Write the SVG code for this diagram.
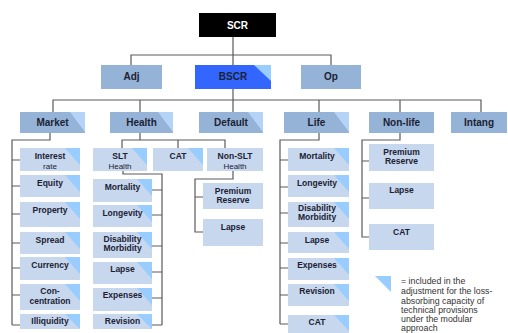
<svg xmlns="http://www.w3.org/2000/svg" width="508" height="333" viewBox="0 0 508 333">
<style>
text{font-family:"Liberation Sans",Arial,sans-serif;font-weight:bold;fill:#1c2233;text-anchor:middle}
.l2{fill:#95b3d7}
.l3{fill:#95b3d7}
.l4{fill:#c6d7ee}
.t3{fill:#b5d3f7}
.t4{fill:#99ccff}
.f10{font-size:10px}
.f8{font-size:8.5px}
.sub{font-weight:normal;font-size:8px}
.conn{fill:none;stroke:#5a5a5a;stroke-width:1.2}
.leg{font-weight:normal;font-size:8.8px;fill:#333;text-anchor:start}
</style>
<rect width="508" height="333" fill="#fff"/>
<g id="connectors" class="conn">
<path d="M233,37V112M131,65V55H331V65M53,112V100H481V112M140,100V112M319,100V112M400,100V112"/>
<path d="M50,133V140H12V325M12,160H20M12,186H20M12,214H20M12,243H20M12,268H20M12,295H20M12,325H20"/>
<path d="M140,133V140M122,148V140H225V148M178,140V148"/>
<path d="M123,171V174H162V325M162,190H152M162,215H152M162,246H152M162,272H152M162,298H152M162,325H152"/>
<path d="M233,171V179H195V232H203M195,197H203"/>
<path d="M319,133V140H280V324M280,160H288M280,187H288M280,213H288M280,243H288M280,268H288M280,295H288M280,324H288"/>
<path d="M400,133V140H362V237H369M362,161H369M362,198H369"/>
</g>
<g id="n-scr"><rect x="199" y="13" width="77" height="24" fill="#000"/><text x="237.5" y="28.5" class="f10" style="fill:#fff">SCR</text></g>
<g id="n-adj"><rect x="101" y="65" width="61" height="24" class="l2"/><text x="131.5" y="80" class="f10">Adj</text></g>
<g id="n-bscr"><rect x="195" y="65" width="76" height="24" fill="#3366ff"/><polygon points="254,65 271,65 271,81" class="t4"/><text x="233" y="80" class="f10">BSCR</text></g>
<g id="n-op"><rect x="301" y="65" width="60" height="24" class="l2"/><text x="331" y="80" class="f10">Op</text></g>

<g id="n-market"><rect x="20" y="112" width="65" height="21" class="l3"/><polygon points="70,112 85,112 85,132" class="t3"/><text x="52.5" y="126" class="f10">Market</text></g>
<g id="n-health"><rect x="110" y="112" width="63" height="21" class="l3"/><polygon points="158,112 173,112 173,132" class="t3"/><text x="141.5" y="126" class="f10">Health</text></g>
<g id="n-default"><rect x="199" y="112" width="64" height="21" class="l3"/><polygon points="248,112 263,112 263,132" class="t3"/><text x="231" y="126" class="f10">Default</text></g>
<g id="n-life"><rect x="284" y="112" width="65" height="21" class="l3"/><polygon points="334,112 349,112 349,132" class="t3"/><text x="316.5" y="126" class="f10">Life</text></g>
<g id="n-nonlife"><rect x="369" y="112" width="65" height="21" class="l3"/><text x="401.5" y="126" class="f10">Non-life</text></g>
<g id="n-intang"><rect x="451" y="112" width="56" height="21" class="l3"/><text x="479" y="126" class="f10">Intang</text></g>

<g id="n-m-interest"><rect x="20" y="148" width="60" height="23" class="l4"/><polygon points="65,148 80,148 80,165" class="t4"/><text x="50" y="159" class="f8">Interest</text><text x="50" y="169" class="sub">rate</text></g>
<g id="n-m-equity"><rect x="20" y="175" width="60" height="22" class="l4"/><polygon points="65,175 80,175 80,192" class="t4"/><text x="50" y="186" class="f8">Equity</text></g>
<g id="n-m-property"><rect x="20" y="202" width="60" height="25" class="l4"/><polygon points="65,202 80,202 80,219" class="t4"/><text x="50" y="213" class="f8">Property</text></g>
<g id="n-m-spread"><rect x="20" y="232" width="60" height="22" class="l4"/><polygon points="65,232 80,232 80,249" class="t4"/><text x="50" y="243" class="f8">Spread</text></g>
<g id="n-m-currency"><rect x="20" y="257" width="60" height="23" class="l4"/><polygon points="65,257 80,257 80,274" class="t4"/><text x="50" y="268" class="f8">Currency</text></g>
<g id="n-m-conc"><rect x="20" y="284" width="60" height="26" class="l4"/><polygon points="65,284 80,284 80,301" class="t4"/><text x="50" y="294" class="f8">Con-</text><text x="50" y="304" class="f8">centration</text></g>
<g id="n-m-illiq"><rect x="20" y="314" width="60" height="15" class="l4"/><polygon points="65,314 80,314 80,329" class="t4"/><text x="50" y="324" class="f8">Illiquidity</text></g>

<g id="n-h-slt"><rect x="93" y="148" width="54" height="23" class="l4"/><polygon points="132,148 147,148 147,165" class="t4"/><text x="120" y="159" class="f8">SLT</text><text x="120" y="169" class="sub">Health</text></g>
<g id="n-h-cat"><rect x="153" y="148" width="50" height="23" class="l4"/><polygon points="188,148 203,148 203,165" class="t4"/><text x="178" y="159" class="f8">CAT</text></g>
<g id="n-h-nonslt"><rect x="207" y="148" width="56" height="23" class="l4"/><text x="235" y="159" class="f8">Non-SLT</text><text x="235" y="169" class="sub">Health</text></g>

<g id="n-s-mort"><rect x="93" y="179" width="59" height="23" class="l4"/><polygon points="137,179 152,179 152,196" class="t4"/><text x="122.5" y="190" class="f8">Mortality</text></g>
<g id="n-s-long"><rect x="93" y="205" width="59" height="22" class="l4"/><polygon points="137,205 152,205 152,222" class="t4"/><text x="122.5" y="216" class="f8">Longevity</text></g>
<g id="n-s-dis"><rect x="93" y="232" width="59" height="26" class="l4"/><polygon points="137,232 152,232 152,249" class="t4"/><text x="122.5" y="242" class="f8">Disability</text><text x="122.5" y="251" class="f8">Morbidity</text></g>
<g id="n-s-lapse"><rect x="93" y="262" width="59" height="22" class="l4"/><polygon points="137,262 152,262 152,279" class="t4"/><text x="122.5" y="272" class="f8">Lapse</text></g>
<g id="n-s-exp"><rect x="93" y="288" width="59" height="23" class="l4"/><polygon points="137,288 152,288 152,305" class="t4"/><text x="122.5" y="298" class="f8">Expenses</text></g>
<g id="n-s-rev"><rect x="93" y="314" width="59" height="15" class="l4"/><polygon points="137,314 152,314 152,329" class="t4"/><text x="122.5" y="324" class="f8">Revision</text></g>

<g id="n-n-prem"><rect x="203" y="183" width="60" height="26" class="l4"/><text x="233" y="194" class="f8">Premium</text><text x="233" y="203" class="f8">Reserve</text></g>
<g id="n-n-lapse"><rect x="203" y="219" width="60" height="27" class="l4"/><text x="233" y="230" class="f8">Lapse</text></g>

<g id="n-l-mort"><rect x="288" y="148" width="61" height="23" class="l4"/><polygon points="334,148 349,148 349,165" class="t4"/><text x="317" y="159" class="f8">Mortality</text></g>
<g id="n-l-long"><rect x="288" y="175" width="61" height="22" class="l4"/><polygon points="334,175 349,175 349,192" class="t4"/><text x="317" y="186" class="f8">Longevity</text></g>
<g id="n-l-dis"><rect x="288" y="202" width="61" height="25" class="l4"/><polygon points="334,202 349,202 349,219" class="t4"/><text x="317" y="211" class="f8">Disability</text><text x="317" y="220" class="f8">Morbidity</text></g>
<g id="n-l-lapse"><rect x="288" y="232" width="61" height="21" class="l4"/><polygon points="334,232 349,232 349,249" class="t4"/><text x="317" y="243" class="f8">Lapse</text></g>
<g id="n-l-exp"><rect x="288" y="258" width="61" height="22" class="l4"/><polygon points="334,258 349,258 349,275" class="t4"/><text x="317" y="268" class="f8">Expenses</text></g>
<g id="n-l-rev"><rect x="288" y="284" width="61" height="22" class="l4"/><polygon points="334,284 349,284 349,301" class="t4"/><text x="317" y="294" class="f8">Revision</text></g>
<g id="n-l-cat"><rect x="288" y="315" width="61" height="18" class="l4"/><polygon points="334,315 349,315 349,331" class="t4"/><text x="317" y="325" class="f8">CAT</text></g>

<g id="n-nl-prem"><rect x="369" y="144" width="65" height="27" class="l4"/><text x="401.5" y="155" class="f8">Premium</text><text x="401.5" y="164" class="f8">Reserve</text></g>
<g id="n-nl-lapse"><rect x="369" y="183" width="65" height="26" class="l4"/><text x="401.5" y="193" class="f8">Lapse</text></g>
<g id="n-nl-cat"><rect x="369" y="224" width="65" height="26" class="l4"/><text x="401.5" y="235" class="f8">CAT</text></g>

<g id="legend">
<polygon points="375,276 391,276 391,292" class="t4"/>
<text class="leg" x="401" y="284">= included in the</text>
<text class="leg" x="401" y="294">adjustment for the loss-</text>
<text class="leg" x="401" y="303.5">absorbing capacity of</text>
<text class="leg" x="401" y="313">technical provisions</text>
<text class="leg" x="401" y="322">under the modular</text>
<text class="leg" x="401" y="331">approach</text>
</g>
</svg>
